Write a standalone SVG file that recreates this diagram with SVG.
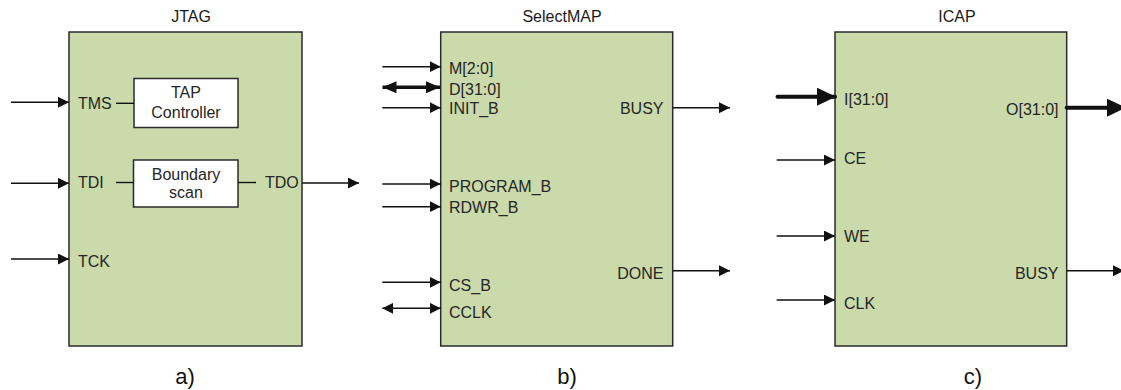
<svg xmlns="http://www.w3.org/2000/svg" width="1121" height="390" viewBox="0 0 1121 390">
  <style>
    .blk { fill: #CADAAA; stroke: #2b2b2b; stroke-width: 1.5; }
    .sub { fill: #ffffff; stroke: #2b2b2b; stroke-width: 1.5; }
    .t { font-family: "Liberation Sans", Arial, sans-serif; font-size: 16px; fill: #262626; }
    .ttl { font-family: "Liberation Sans", Arial, sans-serif; font-size: 16px; fill: #1a1a1a; text-anchor: middle; }
    .cap { font-family: "Liberation Sans", Arial, sans-serif; font-size: 22px; fill: #111; text-anchor: middle; }
    .mid { text-anchor: middle; }
    .end { text-anchor: end; }
    .w { stroke: #111; stroke-width: 1.4; fill: none; }
    .bus { stroke: #111; stroke-width: 4; fill: none; stroke-linecap: round; }
    .in { marker-end: url(#ah); }
    .bi { marker-start: url(#ah); marker-end: url(#ah); }
    .bin { marker-end: url(#ahb); }
    .bbi { stroke-width: 3.4; stroke-linecap: butt; marker-start: url(#ahd); marker-end: url(#ahd); }
  </style>
  <defs>
    <!-- single-bit signal head -->
    <marker id="ah" viewBox="0 0 11 11" refX="11" refY="5.5" markerWidth="11" markerHeight="11" markerUnits="userSpaceOnUse" orient="auto-start-reverse">
      <path d="M0,0 L11,5.5 L0,11 Z" fill="#111"/>
    </marker>
    <!-- 32-bit bus head -->
    <marker id="ahb" viewBox="0 0 19 18" refX="18" refY="9" markerWidth="19" markerHeight="18" markerUnits="userSpaceOnUse" orient="auto-start-reverse">
      <path d="M0,0 L19,9 L0,18 Z" fill="#111"/>
    </marker>
    <!-- bidirectional data bus head -->
    <marker id="ahd" viewBox="0 0 14 12" refX="14" refY="6" markerWidth="14" markerHeight="12" markerUnits="userSpaceOnUse" orient="auto-start-reverse">
      <path d="M0,0 L14,6 L0,12 Z" fill="#111"/>
    </marker>
  </defs>

  <!-- a) JTAG -->
  <g id="jtag">
    <text class="ttl" x="191" y="22">JTAG</text>
    <rect class="blk" x="69" y="32" width="233" height="314"/>
    <text class="t" x="78" y="109">TMS</text>
    <text class="t" x="78" y="188">TDI</text>
    <text class="t" x="78" y="267">TCK</text>
    <text class="t" x="265" y="188">TDO</text>
    <text class="cap" x="185" y="384">a)</text>
  </g>
  <g id="tap-controller">
    <rect class="sub" x="134" y="78.5" width="104" height="49"/>
    <text class="t mid" x="186" y="98">TAP</text>
    <text class="t mid" x="186" y="118">Controller</text>
  </g>
  <g id="boundary-scan">
    <rect class="sub" x="133.5" y="160" width="104.5" height="47"/>
    <text class="t mid" x="186" y="180">Boundary</text>
    <text class="t mid" x="186" y="198">scan</text>
  </g>

  <!-- b) SelectMAP -->
  <g id="selectmap">
    <text class="ttl" x="562" y="22">SelectMAP</text>
    <rect class="blk" x="440.7" y="32" width="232" height="314"/>
    <text class="t" x="449" y="74">M[2:0]</text>
    <text class="t" x="449" y="94.5">D[31:0]</text>
    <text class="t" x="449" y="114">INIT_B</text>
    <text class="t" x="449" y="191.5">PROGRAM_B</text>
    <text class="t" x="449" y="212.5">RDWR_B</text>
    <text class="t" x="449" y="290.5">CS_B</text>
    <text class="t" x="449" y="317.5">CCLK</text>
    <text class="t end" x="663.5" y="114">BUSY</text>
    <text class="t end" x="663.5" y="279">DONE</text>
    <text class="cap" x="567" y="384">b)</text>
  </g>

  <!-- c) ICAP -->
  <g id="icap">
    <text class="ttl" x="957" y="22">ICAP</text>
    <rect class="blk" x="835" y="32" width="231.7" height="314"/>
    <text class="t" x="844" y="105">I[31:0]</text>
    <text class="t" x="844" y="163.5">CE</text>
    <text class="t" x="844" y="242">WE</text>
    <text class="t" x="844" y="308.5">CLK</text>
    <text class="t end" x="1058.5" y="115">O[31:0]</text>
    <text class="t end" x="1058.5" y="278.5">BUSY</text>
    <text class="cap" x="973" y="384">c)</text>
  </g>

  <!-- signal wires -->
  <g id="connectors">
    <!-- JTAG -->
    <line class="w in" x1="11" y1="102.3" x2="69" y2="102.3"/>
    <line class="w in" x1="11" y1="183.3" x2="69" y2="183.3"/>
    <line class="w in" x1="11" y1="259" x2="69" y2="259"/>
    <line class="w" x1="116" y1="103.3" x2="134" y2="103.3"/>
    <line class="w" x1="116" y1="182.5" x2="133.5" y2="182.5"/>
    <line class="w" x1="238" y1="182.5" x2="256" y2="182.5"/>
    <line class="w in" x1="302" y1="183" x2="359" y2="183"/>
    <!-- SelectMAP -->
    <line class="w in" x1="382.3" y1="66.7" x2="440.7" y2="66.7"/>
    <line class="bus bbi" x1="382.5" y1="87.3" x2="440" y2="87.3"/>
    <line class="w in" x1="382.3" y1="107.7" x2="440.7" y2="107.7"/>
    <line class="w in" x1="382.3" y1="184" x2="440.7" y2="184"/>
    <line class="w in" x1="382.3" y1="206.7" x2="440.7" y2="206.7"/>
    <line class="w in" x1="382.3" y1="282.3" x2="440.7" y2="282.3"/>
    <line class="w bi" x1="382.3" y1="308.3" x2="440.7" y2="308.3"/>
    <line class="w in" x1="672.7" y1="107.7" x2="730" y2="107.7"/>
    <line class="w in" x1="672.7" y1="270.7" x2="730" y2="270.7"/>
    <!-- ICAP -->
    <line class="bus bin" x1="777.5" y1="96.7" x2="835" y2="96.7"/>
    <line class="w in" x1="776.7" y1="160" x2="835" y2="160"/>
    <line class="w in" x1="776.7" y1="236" x2="835" y2="236"/>
    <line class="w in" x1="776.7" y1="300" x2="835" y2="300"/>
    <line class="bus bin" x1="1066.7" y1="107.7" x2="1125" y2="107.7"/>
    <line class="w in" x1="1066.7" y1="270.7" x2="1124" y2="270.7"/>
  </g>
</svg>
